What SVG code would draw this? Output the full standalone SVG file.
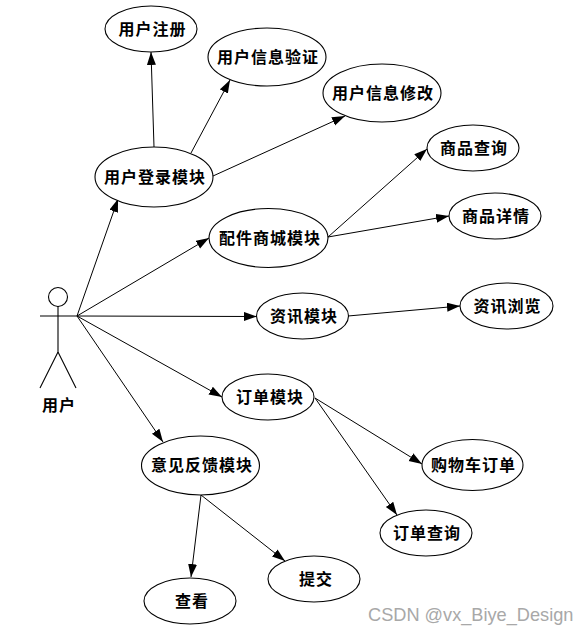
<svg xmlns="http://www.w3.org/2000/svg" width="588" height="634" viewBox="0 0 588 634">
<style>
.n{fill:#fff;stroke:#000;stroke-width:1.1}
.a{fill:none;stroke:#000;stroke-width:1.1}
.e{stroke:#000;stroke-width:1;fill:none;marker-end:url(#h)}
text{font-family:"Noto Sans CJK SC","Liberation Serif",serif;font-size:16px;font-weight:700;letter-spacing:1px;text-anchor:middle;fill:#000}
text.w{font-family:"Liberation Sans",sans-serif;font-size:18.2px;font-weight:400;letter-spacing:0;fill:#a8a8a8;text-anchor:start}
</style>
<defs><marker id="h" markerUnits="userSpaceOnUse" markerWidth="14" markerHeight="10" refX="13" refY="4.5" orient="auto"><path d="M0 0L13 4.5L0 9Z" fill="#000"/></marker></defs>
<rect width="588" height="634" fill="#fff"/>
<g id="connectors">
<path class="e" d="M154 147L151 52"/>
<path class="e" d="M191 153L230 80"/>
<path class="e" d="M213 176L345 116"/>
<path class="e" d="M328 237L427 149"/>
<path class="e" d="M328 237L449 216"/>
<path class="e" d="M348 316L460 306"/>
<path class="e" d="M315 398L422 464"/>
<path class="e" d="M315 398L397 515"/>
<path class="e" d="M201 495L191 577"/>
<path class="e" d="M201 495L285 561"/>
<path class="e" d="M77 316L118 199"/>
<path class="e" d="M77 316L209 238"/>
<path class="e" d="M77 316L257 316.500"/>
<path class="e" d="M77 316L222 397"/>
<path class="e" d="M77 316L163 442"/>
</g>
<g id="actor">
<circle class="a" cx="58" cy="297" r="9.500"/>
<path class="a" d="M58 306V352M40 316H77M58 352L40 388M58 352L76 388"/>
<text x="59" y="411">用户</text>
</g>
<g id="n1"><ellipse class="n" cx="151" cy="29" rx="46" ry="23"/><text x="152.500" y="35">用户注册</text></g>
<g id="n2"><ellipse class="n" cx="267" cy="57" rx="59" ry="29"/><text x="268" y="63">用户信息验证</text></g>
<g id="n3"><ellipse class="n" cx="382" cy="93" rx="59" ry="29"/><text x="383" y="99">用户信息修改</text></g>
<g id="n4"><ellipse class="n" cx="154" cy="177" rx="59" ry="30"/><text x="155" y="183">用户登录模块</text></g>
<g id="n5"><ellipse class="n" cx="473" cy="148" rx="46" ry="23"/><text x="474" y="154">商品查询</text></g>
<g id="n6"><ellipse class="n" cx="495" cy="216" rx="46" ry="23"/><text x="496" y="222">商品详情</text></g>
<g id="n7"><ellipse class="n" cx="268.500" cy="238" rx="59.500" ry="29.500"/><text x="270" y="244">配件商城模块</text></g>
<g id="n8"><ellipse class="n" cx="302.500" cy="316" rx="46" ry="23"/><text x="304" y="322">资讯模块</text></g>
<g id="n9"><ellipse class="n" cx="506.500" cy="306" rx="46.500" ry="23"/><text x="507.500" y="312">资讯浏览</text></g>
<g id="n10"><ellipse class="n" cx="268" cy="397" rx="46" ry="23"/><text x="270" y="403">订单模块</text></g>
<g id="n11"><ellipse class="n" cx="472.500" cy="465" rx="50.500" ry="25.500"/><text x="473.500" y="471">购物车订单</text></g>
<g id="n12"><ellipse class="n" cx="426" cy="533" rx="46" ry="23"/><text x="427" y="539">订单查询</text></g>
<g id="n13"><ellipse class="n" cx="200.500" cy="465.500" rx="59" ry="29.500"/><text x="202" y="471">意见反馈模块</text></g>
<g id="n14"><ellipse class="n" cx="314" cy="579" rx="46" ry="23"/><text x="316" y="585">提交</text></g>
<g id="n15"><ellipse class="n" cx="190" cy="601" rx="46" ry="23"/><text x="192" y="607">查看</text></g>
<text class="w" x="368" y="621">CSDN @vx_Biye_Design</text>
</svg>
